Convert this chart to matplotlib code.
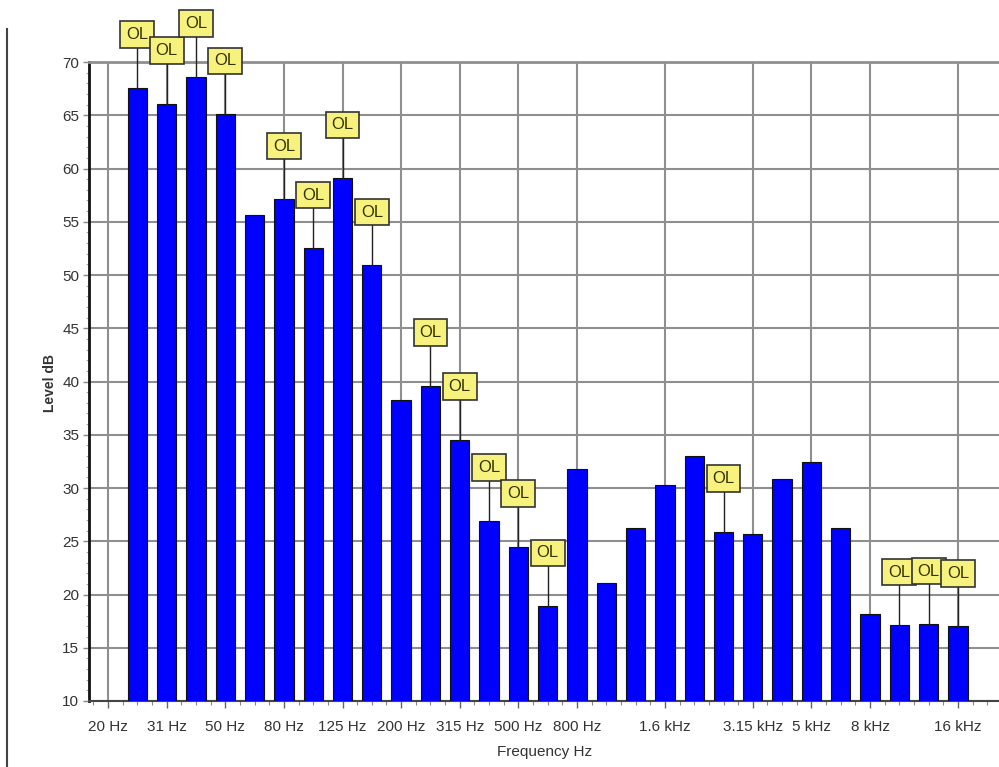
import numpy as np
import matplotlib
matplotlib.use('Agg')
import matplotlib.pyplot as plt
from matplotlib.lines import Line2D
from matplotlib.ticker import MultipleLocator, FixedLocator

# ========== Data ==========
# 1/3 octave band names (20 Hz slot has no bar, only a label)
bands = ['20', '25', '31.5', '40', '50', '63', '80', '100', '125', '160',
         '200', '250', '315', '400', '500', '630', '800', '1k', '1.25k',
         '1.6k', '2k', '2.5k', '3.15k', '4k', '5k', '6.3k', '8k', '10k',
         '12.5k', '16k']
bar_bands = bands[1:]
levels = [67.6, 66.1, 68.6, 65.1, 55.6, 57.1, 52.5, 59.1, 50.9, 38.3,
          39.6, 34.5, 26.9, 24.5, 18.9, 31.8, 21.1, 26.2, 30.3, 33.0,
          25.9, 25.7, 30.8, 32.4, 26.2, 18.2, 17.1, 17.2, 17.0]
# overload flag per bar
overload = [1, 1, 1, 1, 0, 1, 1, 1, 1, 0,
            1, 1, 1, 1, 1, 0, 0, 0, 0, 0,
            1, 0, 0, 0, 0, 0, 1, 1, 1]
tick_bands = ['20', '31.5', '50', '80', '125', '200', '315', '500', '800',
              '1.6k', '3.15k', '5k', '8k', '16k']
tick_labels = ['20 Hz', '31 Hz', '50 Hz', '80 Hz', '125 Hz', '200 Hz',
               '315 Hz', '500 Hz', '800 Hz', '1.6 kHz', '3.15 kHz',
               '5 kHz', '8 kHz', '16 kHz']

# ========== Style ==========
plt.rcParams['font.family'] = ['Liberation Sans', 'DejaVu Sans']
text_col = '#333333'
grid_col = '#8f8f8f'
bar_col = '#0000ff'
ol_col = '#f7f27d'
ol_gap = 5.0  # dB between bar top and OL flag

fig = plt.figure(figsize=(9.99, 7.67), dpi=100)
ax = fig.add_axes([89 / 999, 1 - 701 / 767, 1 - 89 / 999, (701 - 62) / 767])

x = np.array([bands.index(b) for b in bar_bands])
ax.bar(x, levels, width=0.66, color=bar_col, edgecolor='#111111',
       linewidth=0.8, zorder=3)

# === OL flags ===
for xi, v, ol in zip(x, levels, overload):
    if not ol:
        continue
    ax.plot([xi, xi], [v, v + ol_gap], color='#222222', lw=1.0,
            zorder=4, clip_on=False)
    ax.text(xi, v + ol_gap, 'OL', ha='center', va='center', fontsize=12,
            color='#333300', zorder=5, clip_on=False,
            bbox=dict(boxstyle='square,pad=0.35', fc=ol_col,
                      ec='#333333', lw=1.2))

# === Axes ===
ax.set_xlim(-0.65, 30.4)
ax.set_ylim(10, 70)
ax.set_axisbelow(True)

tick_pos = [bands.index(b) for b in tick_bands]
ax.xaxis.set_major_locator(FixedLocator(tick_pos))
ax.set_xticklabels(tick_labels)
ax.xaxis.set_minor_locator(MultipleLocator(0.5))
ax.yaxis.set_major_locator(MultipleLocator(5))
ax.yaxis.set_minor_locator(MultipleLocator(1))

ax.grid(True, which='major', color=grid_col, lw=1.5)
ax.tick_params(axis='x', which='major', direction='out', length=5,
               width=1, color='#666666', pad=9, labelsize=11,
               labelcolor=text_col)
ax.tick_params(axis='x', which='minor', direction='out', length=3,
               width=0.8, color='#888888')
ax.tick_params(axis='y', which='major', direction='out', length=4,
               width=1, color='#888888', pad=3, labelsize=11,
               labelcolor=text_col)
ax.tick_params(axis='y', which='minor', direction='out', length=2,
               width=0.8, color='#aaaaaa')

ax.spines['left'].set_color('#111111')
ax.spines['left'].set_linewidth(2)
ax.spines['bottom'].set_color('#444444')
ax.spines['bottom'].set_linewidth(1.5)
ax.spines['top'].set_color(grid_col)
ax.spines['top'].set_linewidth(2)
ax.spines['right'].set_visible(False)

fig.text(50 / 999, 1 - 383 / 767, 'Level dB', rotation=90, ha='center',
         va='center', fontsize=10, fontweight='bold', color=text_col)
fig.text(545 / 999, 1 - 752 / 767, 'Frequency Hz', ha='center',
         va='center', fontsize=11, color=text_col)

# page border line on the left
fig.add_artist(Line2D([7 / 999, 7 / 999], [0, 1 - 29 / 767],
                      color='#444444', lw=1.5))

fig.savefig('out.png', dpi=100)
